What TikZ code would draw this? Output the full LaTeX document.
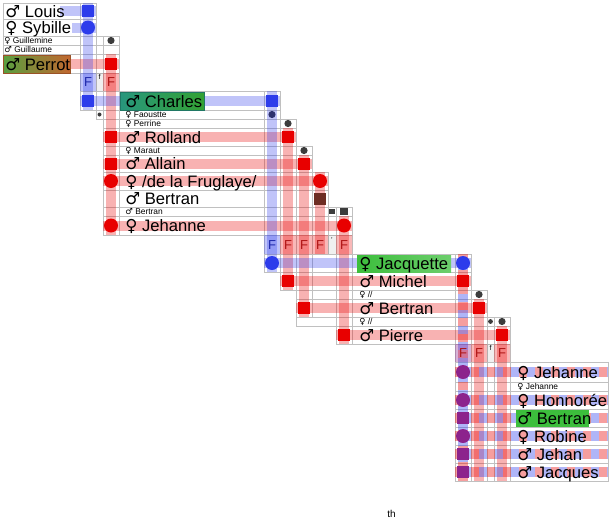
\documentclass[tikz,border=0pt]{standalone}
\usepackage{fontspec}
\setmainfont{Liberation Sans}
\newfontfamily\sexfont{DejaVu Sans}
\newcommand\sexM{{\sexfont ♂}}
\newcommand\sexF{{\sexfont ♀}}
\definecolor{kinGrid}{RGB}{192,192,192}
\definecolor{kinBlue}{RGB}{45,60,235}
\definecolor{kinRed}{RGB}{232,0,0}
\definecolor{kinPurple}{RGB}{140,35,140}
\definecolor{kinDot}{RGB}{60,60,60}
\definecolor{kinNavy}{RGB}{45,50,110}
\definecolor{kinBrown}{RGB}{110,45,35}
\definecolor{kinBlueText}{RGB}{30,40,170}
\definecolor{kinRedText}{RGB}{175,20,20}
\definecolor{kinGreen}{RGB}{60,190,60}
\definecolor{kinOlive}{RGB}{88,160,64}
\definecolor{kinRust}{RGB}{194,103,47}
\definecolor{kinTeal}{RGB}{40,150,125}

\begin{document}
\begin{tikzpicture}[x=.5pt,y=-.5pt,
    person/.style={font=\fontsize{8.3}{9}\selectfont, anchor=base west,
      inner sep=0},
    minor/.style={font=\fontsize{4.2}{4.5}\selectfont, anchor=base west,
      inner sep=0},
    famF/.style={font=\fontsize{6.5}{7}\selectfont, inner sep=0},
    famTick/.style={font=\fontsize{3.5}{4}\selectfont, inner sep=0},
    cell/.style={draw=kinGrid, line width=.5pt},
    blueBar/.style={draw=kinBlue, draw opacity=.3, line width=5pt},
    redBar/.style={draw=kinRed, draw opacity=.3, line width=5pt},
    mixRed/.style={draw=kinRed, draw opacity=.38, line width=5pt,
      dash pattern=on 4pt off 4pt},
    mixBlue/.style={draw=kinBlue, draw opacity=.38, line width=5pt,
      dash pattern=on 4pt off 4pt, dash phase=4pt},
    male/.style={rectangle, minimum size=6pt, inner sep=0},
    female/.style={circle, minimum size=7pt, inner sep=0},
    spouse/.style={circle, minimum size=3.6pt, inner sep=0, fill=kinDot}]
  \useasboundingbox (0,0) rectangle (611,520);

  % grid
  \foreach \l/\t/\r/\b in {3/3/96/19, 3/19/96/36, 3/36/119/45, 3/45/119/54,
      3/54/119/73, 80/73/119/91,
      80/91/280/110, 103/110/280/119, 103/119/296/128, 103/128/296/146,
      103/146/312/155, 103/155/312/172, 103/172/328/190, 103/190/328/207,
      103/207/352/216, 103/216/352/235, 264/235/352/254,
      264/254/471/272, 280/272/471/290, 296/290/487/299, 296/299/487/317,
      296/317/510/326, 336/326/510/344, 455/344/510/362,
      455/362/608/382, 455/382/608/391, 455/391/608/409, 455/409/608/427,
      455/427/608/445, 455/445/608/463, 455/463/608/481}
    {\draw[cell] (\l,\t) rectangle (\r,\b);}
  \foreach \l/\t/\r/\b in {80/3/96/110, 96/36/103/119, 103/36/119/235,
      264/91/280/272, 280/119/296/290, 296/146/312/317, 312/172/328/254,
      328/207/336/254, 336/207/352/344,
      455/254/471/481, 471/290/487/481, 487/317/494/481, 494/317/510/481}
    {\draw[cell] (\l,\t) rectangle (\r,\b);}

  % lineage bars
  \draw[blueBar] (60,11) -- (96,11);
  \draw[blueBar] (72,27.5) -- (96,27.5);
  \draw[redBar] (68,64) -- (119,64);
  \draw[blueBar] (88,3) -- (88,110);
  \draw[redBar] (111,54) -- (111,235);
  \draw[blueBar] (80,101) -- (280,101);
  \draw[redBar] (103,137) -- (296,137);
  \draw[redBar] (103,163.5) -- (312,163.5);
  \draw[redBar] (103,181) -- (328,181);
  \draw[redBar] (103,225.5) -- (352,225.5);
  \draw[blueBar] (272,91) -- (272,272);
  \draw[redBar] (288,128) -- (288,290);
  \draw[redBar] (304,155) -- (304,317);
  \draw[redBar] (320,172) -- (320,254);
  \draw[redBar] (344,216) -- (344,344);
  \draw[blueBar] (264,263) -- (471,263);
  \draw[redBar] (280,281) -- (471,281);
  \draw[redBar] (296,308) -- (487,308);
  \draw[redBar] (336,335) -- (510,335);
  \draw[mixRed] (463,254) -- (463,481);
  \draw[mixBlue] (463,254) -- (463,481);
  \draw[redBar] (479,299) -- (479,481);
  \draw[redBar] (502,326) -- (502,481);
  \foreach \y in {372,400,418,436,454,472}{
    \draw[mixRed] (455,\y) -- (608,\y);
    \draw[mixBlue] (455,\y) -- (608,\y);}

  % family cells
  \fill[kinBlue, opacity=.3] (80,73) rectangle (96,91) (264,235) rectangle (280,254);
  \fill[kinRed, opacity=.28] (103,73) rectangle (119,91) (280,235) rectangle (328,254)
    (336,235) rectangle (352,254) (471,344) rectangle (487,362)
    (494,344) rectangle (510,362);
  \fill[kinPurple, opacity=.35] (455,344) rectangle (471,362);
  \fill[black, opacity=.06] (96,73) rectangle (103,91) (328,235) rectangle (336,254)
    (487,344) rectangle (494,362);

  % highlighted names
  \shade[left color=kinOlive, right color=kinRust, draw=kinRust!80!black]
    (3,55) rectangle (70,73);
  \shade[left color=kinTeal, right color=kinGreen!85!black, draw=kinTeal!80!black]
    (120,92) rectangle (204,110);
  \shade[left color=kinGreen, right color=kinGreen!75!white] (357,255) rectangle (451,272);
  \fill[kinGreen] (516,410) rectangle (589,427);

  % markers
  \node[male, fill=kinBlue] (louisM) at (88,11) {};
  \node[female, fill=kinBlue] (sybilleM) at (88,27.5) {};
  \node[spouse] (guillemineM) at (111,40.5) {};
  \node[male, fill=kinRed] (perrotM) at (111,64) {};
  \node[male, fill=kinBlue] (charlesA) at (88,101) {};
  \node[spouse, minimum size=2pt] (faousteA) at (99.5,114.5) {};
  \node[male, fill=kinRed] (rollandA) at (111,137) {};
  \node[male, fill=kinRed] (allainA) at (111,163.5) {};
  \node[female, fill=kinRed] (fruglayeA) at (111,181) {};
  \node[female, fill=kinRed] (jehanneA) at (111,225.5) {};

  \node[male, fill=kinBlue] (charlesB) at (272,101) {};
  \node[spouse, fill=kinNavy] (faousteB) at (272,114.5) {};
  \node[spouse] (perrineB) at (288,123.5) {};
  \node[male, fill=kinRed] (rollandB) at (288,137) {};
  \node[spouse] (marautB) at (304,150.5) {};
  \node[male, fill=kinRed] (allainB) at (304,163.5) {};
  \node[female, fill=kinRed] (fruglayeB) at (320,181) {};
  \node[male, fill=kinBrown] (bertranB) at (320,198.5) {};
  \node[male, fill=kinDot, minimum size=2.6pt] (bertranTick) at (332,211.5) {};
  \node[male, fill=kinDot, minimum size=3.6pt] (bertranSmall) at (344,211.5) {};
  \node[female, fill=kinRed] (jehanneB) at (344,225.5) {};

  \node[female, fill=kinBlue] (jacquetteA) at (272,263) {};
  \node[male, fill=kinRed] (michelA) at (288,281) {};
  \node[male, fill=kinRed] (bertranA) at (304,308) {};
  \node[male, fill=kinRed] (pierreA) at (344,335) {};
  \node[female, fill=kinBlue] (jacquetteB) at (463,263) {};
  \node[male, fill=kinRed] (michelB) at (463,281) {};
  \node[spouse] (michelWife) at (479,294.5) {};
  \node[male, fill=kinRed] (bertranC) at (479,308) {};
  \node[spouse, minimum size=2.4pt] (pierreTick) at (490.5,321.5) {};
  \node[spouse] (pierreWife) at (502,321.5) {};
  \node[male, fill=kinRed] (pierreB) at (502,335) {};

  \node[female, fill=kinPurple] (jehanneC) at (463,372) {};
  \node[female, fill=kinPurple] (honnoreeC) at (463,400) {};
  \node[male, fill=kinPurple] (bertranD) at (463,418) {};
  \node[female, fill=kinPurple] (robineC) at (463,436) {};
  \node[male, fill=kinPurple] (jehanC) at (463,454) {};
  \node[male, fill=kinPurple] (jacquesC) at (463,472) {};

  % family marks
  \node[famF, text=kinBlueText] (famLouis) at (88,82) {F};
  \node[famTick] (famTickA) at (99.5,77) {f};
  \node[famF, text=kinRedText] (famPerrot) at (111,82) {F};
  \node[famF, text=kinBlueText] (famCharles) at (272,245) {F};
  \node[famF, text=kinRedText] (famRolland) at (288,245) {F};
  \node[famF, text=kinRedText] (famAllain) at (304,245) {F};
  \node[famF, text=kinRedText] (famBertran) at (320,245) {F};
  \node[famTick] (famTickB) at (332,240) {'};
  \node[famF, text=kinRedText] (famJehanne) at (344,245) {F};
  \node[famF, text=kinRedText] (famMichel) at (463,353) {F};
  \node[famF, text=kinRedText] (famBertranC) at (479,353) {F};
  \node[famTick] (famTickC) at (490.5,348) {f};
  \node[famF, text=kinRedText] (famPierre) at (502,353) {F};

  % names
  \node[person] (louis) at (5,17) {\sexM\ Louis};
  \node[person] (sybille) at (5,33.5) {\sexF\ Sybille};
  \node[minor] (guillemine) at (4,43.5) {\sexF\ Guillemine};
  \node[minor] (guillaume) at (4,52) {\sexM\ Guillaume};
  \node[person] (perrot) at (5,70) {\sexM\ Perrot};
  \node[person] (charles) at (125,107) {\sexM\ Charles};
  \node[minor] (faoustte) at (125,117.5) {\sexF\ Faoustte};
  \node[minor] (perrine) at (125,126.5) {\sexF\ Perrine};
  \node[person] (rolland) at (125,143) {\sexM\ Rolland};
  \node[minor] (maraut) at (125,153.5) {\sexF\ Maraut};
  \node[person] (allain) at (125,169.5) {\sexM\ Allain};
  \node[person] (fruglaye) at (125,187) {\sexF\ /de la Fruglaye/};
  \node[person] (bertran) at (125,204.5) {\sexM\ Bertran};
  \node[minor] (bertranMinor) at (125,214.5) {\sexM\ Bertran};
  \node[person] (jehanne) at (125,231.5) {\sexF\ Jehanne};
  \node[person] (jacquette) at (359,269) {\sexF\ Jacquette};
  \node[person] (michel) at (359,287) {\sexM\ Michel};
  \node[minor] (michelMinor) at (359,297.5) {\sexF\ //};
  \node[person] (bertranP) at (359,314) {\sexM\ Bertran};
  \node[minor] (pierreMinor) at (359,324.5) {\sexF\ //};
  \node[person] (pierre) at (359,341) {\sexM\ Pierre};
  \node[person] (jehanneD) at (517,378) {\sexF\ Jehanne};
  \node[minor] (jehanneMinor) at (517,389) {\sexF\ Jehanne};
  \node[person] (honnoree) at (517,406) {\sexF\ Honnorée};
  \node[person] (bertranE) at (517,424) {\sexM\ Bertran};
  \node[person] (robine) at (517,442) {\sexF\ Robine};
  \node[person] (jehan) at (517,460) {\sexM\ Jehan};
  \node[person] (jacques) at (517,478) {\sexM\ Jacques};

  \node[font=\fontsize{5}{6}\selectfont, anchor=base west, inner sep=0] (caption)
    at (387,517) {th};
\end{tikzpicture}
\end{document}
